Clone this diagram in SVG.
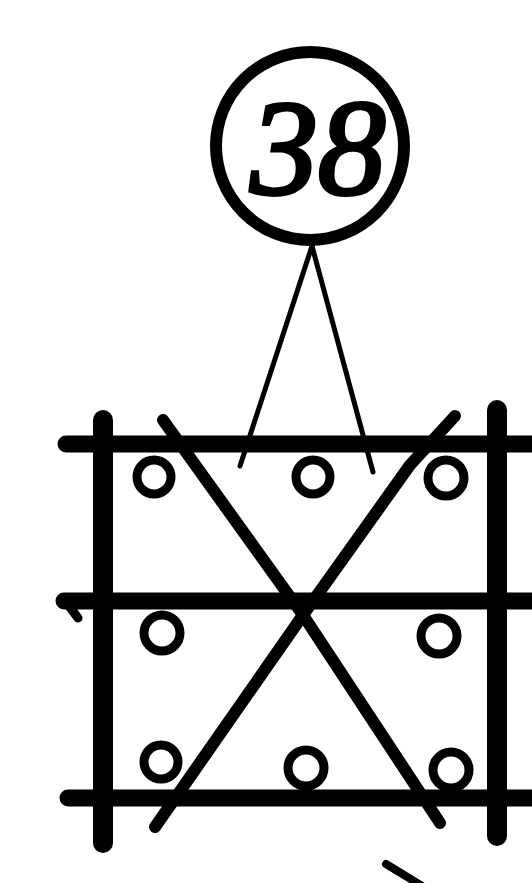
<svg xmlns="http://www.w3.org/2000/svg" width="532" height="883" viewBox="0 0 532 883">
<style>
.bar{stroke:#000;stroke-width:17;stroke-linecap:round;fill:none}
.post{stroke:#000;stroke-width:20;stroke-linecap:round;fill:none}
.diag{stroke:#000;stroke-width:12;stroke-linecap:round;stroke-linejoin:round;fill:none}
.thin{stroke:#000;stroke-width:5;stroke-linecap:round;fill:none}
.ring{stroke:#000;stroke-width:9;fill:#fff}
.big{stroke:#000;stroke-width:12;fill:#fff}
</style>
<rect width="532" height="883" fill="#fff"/>
<g id="frame">
<line class="bar" x1="66" y1="444" x2="540" y2="444"/>
<line class="bar" x1="64" y1="601" x2="540" y2="601"/>
<path class="thin" d="M66 602 L78 618" style="stroke-width:9"/>
<line class="bar" x1="68" y1="798" x2="540" y2="798"/>
<line class="post" x1="103" y1="420" x2="103" y2="843"/>
<line class="post" x1="497" y1="410" x2="497" y2="836"/>
</g>
<g id="connectors">
<line class="thin" x1="312" y1="246" x2="240" y2="466"/>
<line class="thin" x1="312" y1="246" x2="373" y2="472"/>
<polyline class="diag" points="163,420 303,615 440,823"/>
<polyline class="diag" points="455,416 410,465 303,615 183,787 155,827"/>
<line class="thin" x1="386" y1="864" x2="422" y2="886" style="stroke-width:8"/>
</g>
<g id="node-38">
<circle class="big" cx="310" cy="146" r="94"/>
<text x="318" y="194" text-anchor="middle" font-family="Liberation Serif, DejaVu Serif, serif" font-style="italic" font-size="135" fill="#000" stroke="#000" stroke-width="4">38</text>
</g>
<g id="node-t1"><circle class="ring" cx="154" cy="477" r="17"/></g>
<g id="node-t2"><circle class="ring" cx="313" cy="477" r="17"/></g>
<g id="node-t3"><circle class="ring" cx="446" cy="478" r="18"/></g>
<g id="node-m1"><circle class="ring" cx="162" cy="633" r="18"/></g>
<g id="node-m2"><circle class="ring" cx="439" cy="636" r="18"/></g>
<g id="node-b1"><circle class="ring" cx="161" cy="762" r="17"/></g>
<g id="node-b2"><circle class="ring" cx="306" cy="768" r="18"/></g>
<g id="node-b3"><circle class="ring" cx="451" cy="770" r="18"/></g>
</svg>
